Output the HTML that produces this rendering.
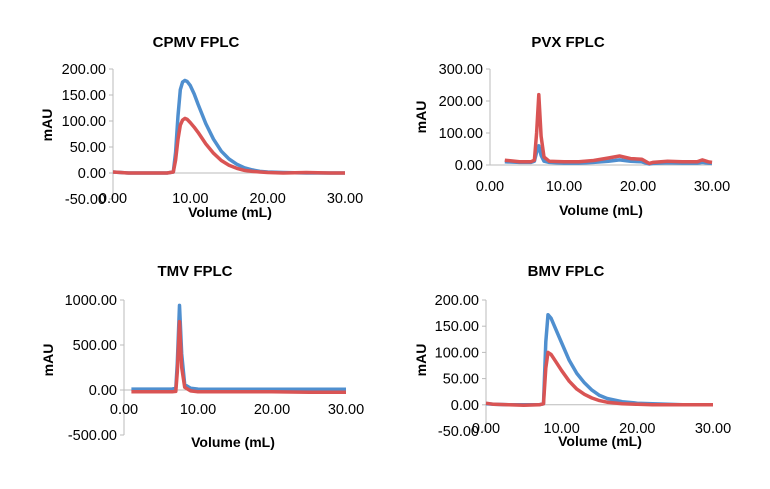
<!DOCTYPE html>
<html><head><meta charset="utf-8"><style>
body{margin:0;background:#fff}
svg text{font-family:"Liberation Sans",sans-serif;fill:#000}
.t{font-weight:bold;font-size:15px}
.tk{font-size:14.5px}
.ax{font-weight:bold;font-size:14px}
</style></head><body>
<svg id="c" width="770" height="484"></svg>
<script>
// CPMV
const cpmvX=[0,1,2,3,4,5,6,7,7.8,8.1,8.4,8.7,9,9.3,9.6,10,10.5,11,12,13,14,15,16,17,18,19,20,22,25,28,30];
const cpmvBlue=[2,1,0,0,0,0,0,0,2,40,110,160,175,178,176,168,152,132,95,65,42,27,17,10,6,3,2,1,0,0,0];
const cpmvRed=[2,1,0,0,0,0,0,0,2,25,65,92,102,105,103,97,88,78,56,38,24,15,9,5,3,2,1,0,1,0,0];
// PVX
const pvxX=[2,4,5.5,6,6.3,6.6,6.9,7.3,8,10,12,14,16,17.5,19,20.5,21.5,22,24,26,28,28.7,29.5,30];
const pvxBlue=[10,8,8,12,40,60,30,12,8,6,6,8,12,16,12,10,3,5,7,6,6,8,6,5];
const pvxRed=[15,10,10,15,100,220,90,25,12,10,10,14,22,28,20,18,5,8,12,10,10,16,10,8];
// TMV
const tmvX=[1,5,6.5,7,7.2,7.5,7.8,8.2,9,10,15,20,25,30];
const tmvBlue=[10,10,10,20,300,940,400,60,20,10,8,8,8,8];
const tmvRed=[-20,-20,-20,-15,200,760,250,30,-10,-20,-20,-20,-25,-25];
// BMV
const bmvX=[0,1,3,5,7,7.6,7.9,8.2,8.6,9.2,10,11,12,13,14,15,16,18,20,22,24,26,28,30];
const bmvBlue=[2,1,0,0,0,2,120,172,165,145,118,85,60,42,28,18,12,6,3,2,1,0,0,0];
const bmvRed=[3,1,0,-1,0,2,70,100,96,83,65,45,30,20,13,8,5,2,1,0,0,0,0,0];

const yTicksCPMV=["200.00","150.00","100.00","50.00","0.00","-50.00"];
const yTicksPVX=["300.00","200.00","100.00","0.00"];
const yTicksTMV=["1000.00","500.00","0.00","-500.00"];
const xTickLabels=["0.00","10.00","20.00","30.00"];

const svg=document.getElementById('c');
const NS="http://www.w3.org/2000/svg";
function mk(tag,at,parent){const e=document.createElementNS(NS,tag);for(const k in at)e.setAttribute(k,at[k]);(parent||svg).appendChild(e);return e;}
function txt(s,x,y,cls,anchor,extra){const e=mk('text',Object.assign({x:x,y:y,class:cls,'text-anchor':anchor||'middle'},extra||{}));e.textContent=s;return e;}

function chart(cfg){
  const g=mk('g',{});
  
  
  const sx=v=>cfg.x0+(v-0)/30*(cfg.x1-cfg.x0);
  const sy=v=>cfg.yTop+(cfg.yMax-v)/(cfg.yMax-cfg.yMin)*(cfg.yBot-cfg.yTop);
  const ax=mk('line',{x1:cfg.x0,x2:cfg.x0,y1:cfg.yTop,y2:cfg.yBot,stroke:'#bbb','stroke-width':1},g);
  
  const zl=mk('line',{x1:cfg.x0,x2:cfg.x1,y1:sy(0),y2:sy(0),stroke:'#bbb','stroke-width':1},g);
  
  cfg.yTicks.forEach(l=>{const v=parseFloat(l);
    mk('line',{x1:cfg.x0-4,x2:cfg.x0,y1:sy(v),y2:sy(v),stroke:'#bbb'},g);
    const t=txt(l,cfg.x0-7,sy(v)+5,'tk','end');g.appendChild(t);});
  xTickLabels.forEach(l=>{const v=parseFloat(l);
    const t=txt(l,sx(v),cfg.xLabY,'tk','middle');g.appendChild(t);});
  [[cfg.blue,'#4f8fcf'],[cfg.red,'#d95454']].forEach(([ys,c],i)=>{
    const d=cfg.xs.map((x,j)=>(j?'L':'M')+sx(x).toFixed(1)+','+sy(ys[j]).toFixed(1)).join(' ');
    const p=mk('path',{d:d,fill:'none',stroke:c,'stroke-width':3.5,'stroke-linejoin':'round'},g);
    });
  const ti=txt(cfg.title,cfg.titleX,cfg.titleY,'t');g.appendChild(ti);
  const xt=txt('Volume (mL)',cfg.xTitleX,cfg.xTitleY,'ax');g.appendChild(xt);
  const yt=txt('mAU',0,0,'ax','middle',{transform:'translate('+cfg.yTitleX+','+cfg.yTitleY+') rotate(-90)'});
  g.appendChild(yt);
}
chart({name:'cpmv',title:'CPMV FPLC',xs:cpmvX,blue:cpmvBlue,red:cpmvRed,x0:113,x1:345,yTop:69,yBot:199,yMax:200,yMin:-50,yTicks:yTicksCPMV,xLabY:203,titleX:196,titleY:47,xTitleX:230,xTitleY:217,yTitleX:52,yTitleY:125});
chart({name:'pvx',title:'PVX FPLC',xs:pvxX,blue:pvxBlue,red:pvxRed,x0:490,x1:712,yTop:69,yBot:165,yMax:300,yMin:0,yTicks:yTicksPVX,xLabY:191,titleX:568,titleY:47,xTitleX:601,xTitleY:215,yTitleX:426,yTitleY:117});
chart({name:'tmv',title:'TMV FPLC',xs:tmvX,blue:tmvBlue,red:tmvRed,x0:124,x1:346,yTop:300,yBot:435,yMax:1000,yMin:-500,yTicks:yTicksTMV,xLabY:414,titleX:195,titleY:276,xTitleX:233,xTitleY:447,yTitleX:53,yTitleY:360});
chart({name:'bmv',title:'BMV FPLC',xs:bmvX,blue:bmvBlue,red:bmvRed,x0:486,x1:713,yTop:300,yBot:431,yMax:200,yMin:-50,yTicks:yTicksCPMV,xLabY:433,titleX:566,titleY:276,xTitleX:600,xTitleY:446,yTitleX:426,yTitleY:360});
</script>
</body></html>
